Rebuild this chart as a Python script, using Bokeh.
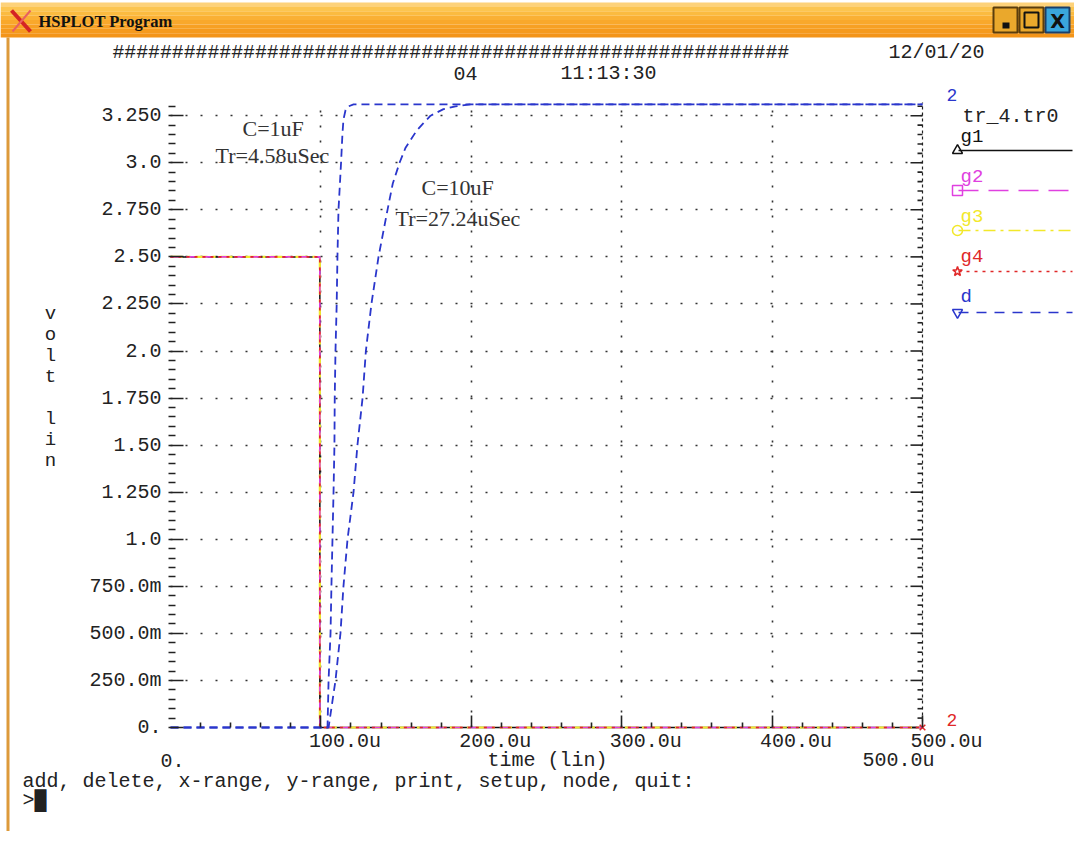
from bokeh.plotting import figure
from bokeh.models import (FixedTicker, CustomJSTickFormatter, Label, LabelSet,
                          ColumnDataSource, Range1d, LinearAxis)
from bokeh.embed import file_html
from bokeh.resources import INLINE
from bokeh.core.properties import value

# ---------------- data (time in microseconds, voltage in volts) ----------------
input_t = [0.0, 99.3, 99.3, 500.0]
input_v = [2.5, 2.5, 0.0, 0.0]

d_1uF_t = [0.0, 104.4, 105.1, 106.4, 107.0, 107.7, 108.4, 109.0, 109.2, 109.7,
           110.5, 111.0, 111.7, 113.4, 114.3, 115.0, 116.4, 118.5, 121.7, 500.0]
d_1uF_v = [0.0, 0.0, 0.25, 0.5, 0.75, 1.0, 1.25, 1.5, 1.75, 2.0,
           2.25, 2.5, 2.75, 3.0, 3.15, 3.23, 3.28, 3.30, 3.31, 3.31]

d_10uF_t = [0.0, 105.1, 109.7, 113.0, 115.0, 117.7, 121.7, 124.3, 127.7, 129.9,
            133.6, 138.3, 144.3, 147.8, 152.3, 156.3, 159.6, 163.6, 168.2, 172.9,
            181.5, 189.5, 199.5, 500.0]
d_10uF_v = [0.0, 0.0, 0.25, 0.5, 0.75, 1.0, 1.25, 1.5, 1.75, 2.0,
            2.25, 2.5, 2.75, 2.89, 3.0, 3.08, 3.12, 3.17, 3.21, 3.25,
            3.285, 3.30, 3.31, 3.31]

y_ticks = [0.0, 0.25, 0.5, 0.75, 1.0, 1.25, 1.5, 1.75, 2.0, 2.25, 2.5, 2.75, 3.0, 3.25]
y_tick_labels = ["0.", "250.0m", "500.0m", "750.0m", "1.0", "1.250", "1.50", "1.750",
                 "2.0", "2.250", "2.50", "2.750", "3.0", "3.250"]
x_ticks = [100.0, 200.0, 300.0, 400.0, 500.0]
x_tick_labels = ["100.0u", "200.0u", "300.0u", "400.0u", "500.0u"]

legend_names = ["g1", "g2", "g3", "g4", "d"]
legend_colors = ["#111111", "#e040e0", "#f2e82a", "#e02828", "#2a36cc"]
legend_dashes = ["solid", "20 10", "12 5 3 5", "3 5", "10 8"]
legend_markers = ["triangle", "square", "circle", "star", "inverted_triangle"]

# ---------------- layout constants (page pixels) ----------------
W, H = 1074, 831
PAGE_X0, PAGE_Y0 = 0, 0
ORIGIN_PX, ORIGIN_PY = 170, 727     # page pixel of (0 us, 0 V)
PX_PER_US, PX_PER_V = 1.504, 188.25
T_MAX, V_MAX = 500.0, 3.32


def px2x(px):
    return (px - ORIGIN_PX) / PX_PER_US


def py2y(py):
    return (ORIGIN_PY - py) / PX_PER_V


MONO = "Liberation Mono"
SERIF = "Liberation Serif"
INK = "#222222"

p = figure(width=W, height=H, output_backend="svg", toolbar_location=None,
           x_range=Range1d(px2x(PAGE_X0), px2x(PAGE_X0 + W)),
           y_range=Range1d(py2y(PAGE_Y0 + H), py2y(PAGE_Y0)),
           x_axis_location=None, y_axis_location=None,
           min_border=0)
p.outline_line_color = None
p.background_fill_color = "white"
p.border_fill_color = "white"

# ---------------- window chrome ----------------
bar_cols = ["#fdd27a", "#fcc550", "#fbbb40", "#fab034", "#f9a82b", "#f7a023", "#f59a1d", "#f39418"]
BAR_TOP, BAR_BOT = 2, 37
bar_edges = [BAR_TOP + i * (BAR_BOT - BAR_TOP) / len(bar_cols) for i in range(len(bar_cols) + 1)]
p.quad(left=[px2x(0)] * len(bar_cols), right=[px2x(W)] * len(bar_cols),
       top=[py2y(e) for e in bar_edges[:-1]], bottom=[py2y(e) for e in bar_edges[1:]],
       fill_color=bar_cols, line_color=None)
p.quad(left=[px2x(6)], right=[px2x(9)], top=[py2y(BAR_BOT)], bottom=[py2y(H)],
       fill_color="#dd9a3a", line_color=None)
p.segment(x0=[px2x(11)], y0=[py2y(10)], x1=[px2x(30)], y1=[py2y(31)],
          line_color="#d42424", line_width=4)
p.segment(x0=[px2x(30)], y0=[py2y(10)], x1=[px2x(12)], y1=[py2y(31)],
          line_color="#e86060", line_width=2)
p.add_layout(Label(x=px2x(38), y=py2y(21), text="HSPLOT Program", text_font=SERIF,
                   text_font_style="bold", text_font_size="16.5px", text_color="#111",
                   text_baseline="middle", text_align="left"))
btn_left = [993, 1019, 1045]
btn_fill = ["#eaa82c", "#eaa82c", "#3aa6dc"]
btn_line = ["#5a3d0c", "#5a3d0c", "#1a3f6a"]
p.quad(left=[px2x(b) for b in btn_left], right=[px2x(b + 24) for b in btn_left],
       top=[py2y(7)] * 3, bottom=[py2y(32)] * 3, fill_color=btn_fill,
       line_color=btn_line, line_width=2)
p.quad(left=[px2x(1002)], right=[px2x(1009)], top=[py2y(22)], bottom=[py2y(28)],
       fill_color="#111", line_color=None)
p.quad(left=[px2x(1024)], right=[px2x(1038)], top=[py2y(12)], bottom=[py2y(27)],
       fill_color=None, line_color="#111", line_width=2)
p.add_layout(Label(x=px2x(1057), y=py2y(20), text="X", text_font="DejaVu Sans",
                   text_font_style="bold", text_font_size="19px", text_color="#111",
                   text_baseline="middle", text_align="center"))

# ---------------- axes (fixed inside the frame) ----------------
minor_y = [round(i * 0.05, 2) for i in range(1, 67) if i % 5 != 0]
minor_x = [float(i * 20) for i in range(1, 25) if i % 5 != 0]

ya = LinearAxis(fixed_location=0.0)
ya.ticker = FixedTicker(ticks=y_ticks, minor_ticks=minor_y)
ya.formatter = CustomJSTickFormatter(
    args=dict(yt=y_ticks, yl=y_tick_labels),
    code="for (let i = 0; i < yt.length; i++) { if (Math.abs(yt[i] - tick) < 1e-6) return yl[i]; } return '';")
ya.axis_line_color = None
ya.major_tick_in, ya.major_tick_out = 13, 2
ya.minor_tick_in, ya.minor_tick_out = 5, 2
ya.major_tick_line_width = 1.6
ya.minor_tick_line_width = 1.6
ya.major_tick_line_color = INK
ya.minor_tick_line_color = INK
ya.major_label_standoff = 7
ya.major_label_text_font = MONO
ya.major_label_text_font_size = "20px"
ya.major_label_text_color = INK
p.add_layout(ya, "left")

xa = LinearAxis(fixed_location=0.0)
xa.ticker = FixedTicker(ticks=x_ticks, minor_ticks=minor_x)
xa.formatter = CustomJSTickFormatter(code="return '';")
xa.axis_line_color = None
xa.major_tick_in, xa.major_tick_out = 12, 0
xa.minor_tick_in, xa.minor_tick_out = 5, 0
xa.major_tick_line_width = 1.6
xa.minor_tick_line_width = 1.6
xa.major_tick_line_color = INK
xa.minor_tick_line_color = INK
xa.major_label_text_font_size = "1px"
p.add_layout(xa, "below")

# grid (dotted, limited to the plot box)
p.xgrid.ticker = FixedTicker(ticks=x_ticks[:-1])
p.ygrid.ticker = FixedTicker(ticks=y_ticks[1:])
p.xgrid.cross_bounds = (0.0, V_MAX)
p.ygrid.cross_bounds = (0.0, T_MAX)
for g in (p.xgrid, p.ygrid):
    g.grid_line_color = "#333"
    g.grid_line_dash = "2 13"
    g.grid_line_width = 1.6

# right-hand axis at 500 us
p.line([T_MAX, T_MAX], [0.0, V_MAX], line_color=INK, line_dash="3 3", line_width=1.2)
p.segment(x0=[T_MAX - 12 / PX_PER_US] * len(y_ticks), y0=y_ticks,
          x1=[T_MAX] * len(y_ticks), y1=y_ticks, line_color=INK, line_width=1.6)
p.segment(x0=[T_MAX - 5 / PX_PER_US] * len(minor_y), y0=minor_y,
          x1=[T_MAX] * len(minor_y), y1=minor_y, line_color=INK, line_width=1.6)

# ---------------- traces ----------------
p.line(input_t, input_v, line_color=legend_colors[0], line_width=1.5)
p.line(input_t, input_v, line_color=legend_colors[2], line_width=2.2, line_dash=legend_dashes[2])
p.line(input_t, input_v, line_color=legend_colors[1], line_width=1.6, line_dash="10 6")
p.line(input_t, input_v, line_color=legend_colors[3], line_width=1.6, line_dash=legend_dashes[3])

p.line(d_10uF_t, d_10uF_v, line_color=legend_colors[4], line_width=1.8, line_dash="8 5")
p.line(d_1uF_t, d_1uF_v, line_color=legend_colors[4], line_width=1.8, line_dash="8 5")

p.scatter([T_MAX], [0.0], marker="x", size=8, line_color="#e02828", line_width=1.5)

# ---------------- legend (HSPLOT style) ----------------
leg_line_py = [150, 190, 230, 271, 312]
leg_text_py = [136, 176, 216, 256, 296]
for name, col, dash, mk, lpy, tpy in zip(legend_names, legend_colors, legend_dashes,
                                         legend_markers, leg_line_py, leg_text_py):
    p.line([px2x(958), px2x(1072)], [py2y(lpy)] * 2, line_color=col,
           line_width=1.6, line_dash=dash)
    p.scatter([px2x(957)], [py2y(lpy)], marker=mk, size=10, fill_color=None,
              line_color=col, line_width=1.5)
    p.add_layout(Label(x=px2x(960), y=py2y(tpy), text=name, text_font=MONO,
                       text_font_size="19px", text_color=col,
                       text_baseline="middle", text_align="left"))

p.add_layout(Label(x=px2x(962), y=py2y(116), text="tr_4.tr0", text_font=MONO,
                   text_font_size="20px", text_color=INK,
                   text_baseline="middle", text_align="left"))
p.add_layout(Label(x=px2x(946), y=py2y(94), text="2", text_font=MONO,
                   text_font_size="18px", text_color="#2a36cc",
                   text_baseline="middle", text_align="left"))
p.add_layout(Label(x=px2x(946), y=py2y(719), text="2", text_font=MONO,
                   text_font_size="18px", text_color="#e02828",
                   text_baseline="middle", text_align="left"))

# ---------------- annotations ----------------
for txt, lx, ly in [("C=1uF", 242, 128), ("Tr=4.58uSec", 215, 155),
                    ("C=10uF", 421, 187), ("Tr=27.24uSec", 395, 218)]:
    p.add_layout(Label(x=px2x(lx), y=py2y(ly), text=txt, text_font=SERIF,
                       text_font_size="22px", text_color="#333",
                       text_baseline="middle", text_align="left"))

# header texts
for txt, lx, ly, fs in [("#" * 57, 112, 52, "19.8px"), ("12/01/20", 888, 52, "20px"),
                        ("04", 453, 73, "20px"), ("11:13:30", 560, 73, "20px")]:
    p.add_layout(Label(x=px2x(lx), y=py2y(ly), text=txt, text_font=MONO,
                       text_font_size=fs, text_color=INK,
                       text_baseline="middle", text_align="left"))

# y-axis title (vertical letters)
for ch, ly in zip(["v", "o", "l", "t", "l", "i", "n"], [313, 334, 355, 376, 418, 439, 460]):
    p.add_layout(Label(x=px2x(50), y=py2y(ly), text=ch, text_font=MONO,
                       text_font_size="19px", text_color=INK,
                       text_baseline="middle", text_align="center"))

# x tick labels
xsrc = ColumnDataSource(dict(x=x_ticks, y=[py2y(741)] * len(x_ticks), text=x_tick_labels))
p.add_layout(LabelSet(x="x", y="y", text="text", source=xsrc, x_offset=-12,
                      text_font=value(MONO), text_font_size=value("20px"),
                      text_color=INK, text_baseline="middle", text_align="left"))

# bottom texts
for txt, lx, ly in [("0.", 160, 760), ("time (lin)", 487, 760), ("500.0u", 862, 760),
                    ("add, delete, x-range, y-range, print, setup, node, quit:", 22, 781),
                    (">\u2588", 22, 800)]:
    p.add_layout(Label(x=px2x(lx), y=py2y(ly), text=txt, text_font=MONO,
                       text_font_size="20px", text_color=INK,
                       text_baseline="middle", text_align="left"))

open("out.html", "w").write(file_html(p, INLINE))
